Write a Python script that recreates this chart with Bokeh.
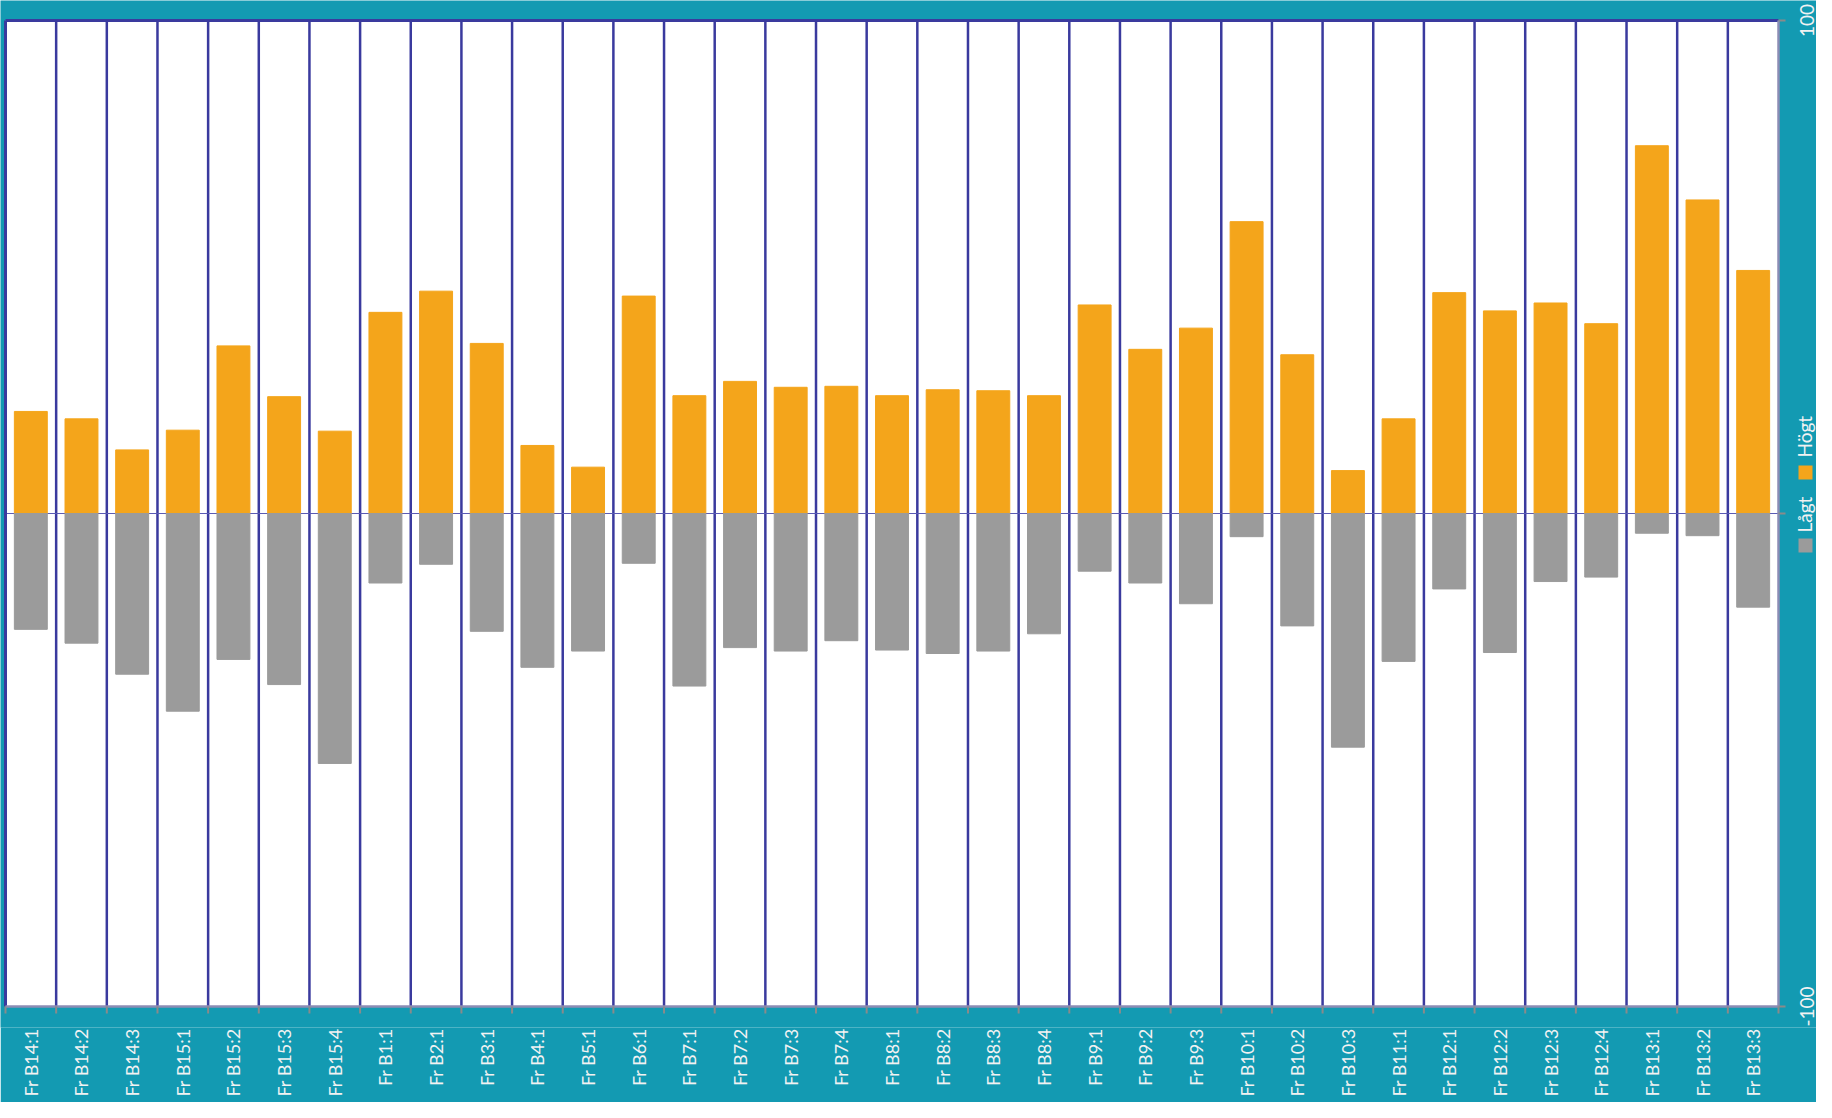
import math
from bokeh.plotting import figure
from bokeh.models import FixedTicker, Range1d
from bokeh.core.properties import value
from bokeh.embed import file_html
from bokeh.resources import INLINE

categories = ["Fr B14:1", "Fr B14:2", "Fr B14:3", "Fr B15:1", "Fr B15:2", "Fr B15:3", "Fr B15:4",
              "Fr B1:1", "Fr B2:1", "Fr B3:1", "Fr B4:1", "Fr B5:1", "Fr B6:1",
              "Fr B7:1", "Fr B7:2", "Fr B7:3", "Fr B7:4", "Fr B8:1", "Fr B8:2", "Fr B8:3", "Fr B8:4",
              "Fr B9:1", "Fr B9:2", "Fr B9:3", "Fr B10:1", "Fr B10:2", "Fr B10:3", "Fr B11:1",
              "Fr B12:1", "Fr B12:2", "Fr B12:3", "Fr B12:4", "Fr B13:1", "Fr B13:2", "Fr B13:3"]
hogt = [20.7, 19.2, 12.9, 16.9, 34.0, 23.7, 16.7, 40.8, 45.1, 34.5, 13.8, 9.4, 44.1,
        23.9, 26.8, 25.6, 25.8, 23.9, 25.1, 24.9, 23.9, 42.3, 33.3, 37.6, 59.2, 32.2, 8.7, 19.2,
        44.8, 41.1, 42.7, 38.5, 74.6, 63.6, 49.3]
lagt = [-23.5, -26.3, -32.6, -40.1, -29.6, -34.7, -50.7, -14.1, -10.3, -23.9, -31.2, -27.9, -10.1,
        -35.0, -27.2, -27.9, -25.8, -27.7, -28.4, -27.9, -24.4, -11.7, -14.1, -18.3, -4.7, -22.8, -47.4, -30.0,
        -15.3, -28.2, -13.8, -12.9, -4.0, -4.5, -19.0]
y_min, y_max = -100, 100
y_ticks = [-100, 0, 100]
y_tick_labels = ["-100", "", "100"]
series_names = ["Lågt", "Högt"]

TEAL = "#139AB2"
ORANGE = "#F4A51B"
GREY = "#9B9B9B"
NAVY = "#3A3A9E"
LAVENDER = "#8C8CB4"
TICK = "#8A8A8A"
LABEL_COL = "#F2F2F2"
FONT = "Lato"

n = len(categories)
centers = [i + 0.5 for i in range(n)]
bounds = list(range(n + 1))

# page layout (pixels)
W, H = 1816, 1102
PL, PR, PT, PB = 5, 1778, 20, 1006      # white plot area
FBOT = 1027                              # bottom of bokeh frame (x labels below)
pxu_x = (PR - PL) / n
pxu_y = (PB - PT) / (y_max - y_min)

x_range = Range1d(-PL / pxu_x, n + (W - PR) / pxu_x)
y_range = Range1d(y_min - (FBOT - PB) / pxu_y, y_max + PT / pxu_y)

p = figure(width=W, height=H, output_backend="svg", toolbar_location=None,
           x_range=x_range, y_range=y_range, y_axis_location=None,
           min_border_left=0, min_border_right=0, min_border_top=0, min_border_bottom=H - FBOT)
p.border_fill_color = TEAL
p.background_fill_color = TEAL
p.outline_line_color = None
p.xgrid.grid_line_color = None
p.ygrid.grid_line_color = None

# white plotting area
p.quad(left=0, right=n, bottom=y_min, top=y_max, fill_color="white", line_color=None)

# category separators
p.segment(x0=bounds[1:-1], y0=y_min, x1=bounds[1:-1], y1=y_max, line_color=NAVY, line_width=2.5)

# zero line
p.segment(x0=[0], y0=[0], x1=[n], y1=[0], line_color="#5A5AB4", line_width=1.2)

# bars
p.vbar(x=centers, top=hogt, bottom=0, width=0.65, color=ORANGE)
p.vbar(x=centers, top=0, bottom=lagt, width=0.65, color=GREY)

# plot area border
p.segment(x0=[0, 0], y0=[y_max, y_min], x1=[n, 0], y1=[y_max, y_max], line_color=NAVY, line_width=3)
p.segment(x0=[0, n], y0=[y_min, y_min], x1=[n, n], y1=[y_min, y_max], line_color=LAVENDER, line_width=2.5)

# tick marks
p.ray(x=[n] * len(y_ticks), y=y_ticks, length=7, length_units="screen", angle=0,
      line_color=TICK, line_width=2)
p.ray(x=bounds, y=[y_min] * len(bounds), length=7, length_units="screen", angle=-math.pi / 2,
      line_color=TICK, line_width=2)

# right axis labels (rotated)
lab_y = [t for t, l in zip(y_ticks, y_tick_labels) if l]
lab_t = [l for l in y_tick_labels if l]
p.text(x=[n] * len(lab_y), y=lab_y, text=lab_t, x_offset=28, angle=math.pi / 2,
       text_align="center", text_baseline="middle", text_color=LABEL_COL,
       text_font=value(FONT), text_font_size="19px")

# legend (rotated, reading bottom to top)
yc = (y_max + y_min) / 2
sq_off = [-32, 41]          # square centre offsets from plot centre, px (down positive)
txt_off = [-19, 56]         # text start offsets from plot centre, px (up positive)
leg_cols = [GREY, ORANGE]
p.rect(x=[n + 27 / pxu_x] * 2, y=[yc + o / pxu_y for o in sq_off], width=14, height=14,
       width_units="screen", height_units="screen", fill_color=leg_cols, line_color=None)
p.text(x=[n] * 2, y=[yc + o / pxu_y for o in txt_off], text=series_names, x_offset=26,
       angle=math.pi / 2, text_align="left", text_baseline="middle", text_color=LABEL_COL,
       text_font=value(FONT), text_font_size="19px")

# x axis with category labels
xa = p.xaxis[0]
xa.ticker = FixedTicker(ticks=centers)
xa.major_label_overrides = {c: lab for c, lab in zip(centers, categories)}
xa.major_label_orientation = math.pi / 2
xa.major_tick_out = 0
xa.major_tick_in = 0
xa.minor_tick_out = 0
xa.minor_tick_in = 0
xa.axis_line_color = None
xa.major_label_text_color = LABEL_COL
xa.major_label_text_font = FONT
xa.major_label_text_font_size = "18px"
xa.major_label_standoff = 1

open("out.html", "w").write(file_html(p, INLINE))
